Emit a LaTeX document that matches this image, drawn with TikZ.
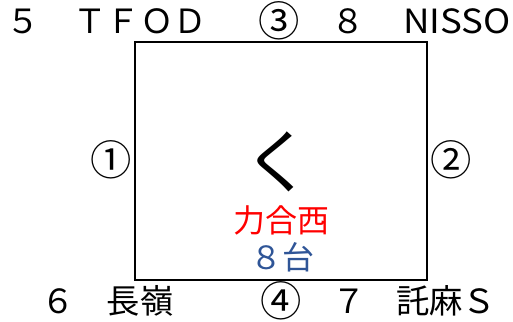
\documentclass[tikz,border=0pt]{standalone}
\usepackage{fontspec}
\setmainfont{Noto Sans CJK JP}
\definecolor{labelblue}{RGB}{47,85,151}
\tikzset{
    lbl/.style={inner sep=0pt, font=\fontsize{25}{30}\selectfont},
    circlbl/.style={inner sep=0pt, font=\fontsize{31}{36}\selectfont},
    inlbl/.style={inner sep=0pt, font=\fontsize{24}{28}\selectfont}
}
\begin{document}
\begin{tikzpicture}[x=0.75pt, y=-0.75pt]
    % Fix the page size
    \useasboundingbox (0,0) rectangle (513,321);

    % Draw the box
    \draw[line width=1.5pt] (135,42) rectangle (427,280);

    % Top labels
    \node[lbl] (num5) at (23,21) {５};
    \node[lbl] (tfod) at (140,21) {ＴＦＯＤ};
    \node[circlbl] (c3) at (279,21) {③};
    \node[lbl] (num8) at (348,21) {８};
    \node[lbl, xscale=1.1] (nisso) at (457,21) {NISSO};

    % Side labels
    \node[circlbl] (c1) at (111,160) {①};
    \node[circlbl] (c2) at (451,160) {②};

    % Bottom labels
    \node[lbl] (num6) at (58,301) {６};
    \node[lbl] (nagamine) at (140,301) {長嶺};
    \node[circlbl] (c4) at (281,301) {④};
    \node[lbl] (num7) at (349,301) {７};
    \node[lbl] (takuma) at (446,301) {託麻Ｓ};

    % Inside the box
    \node[inner sep=0pt, font=\fontsize{52}{56}\selectfont] (ku) at (278,162) {く};
    \node[inlbl, text=red] (rikigo) at (281,220) {力合西};
    \node[inlbl, text=labelblue] (count) at (282,257) {８台};
\end{tikzpicture}
\end{document}
